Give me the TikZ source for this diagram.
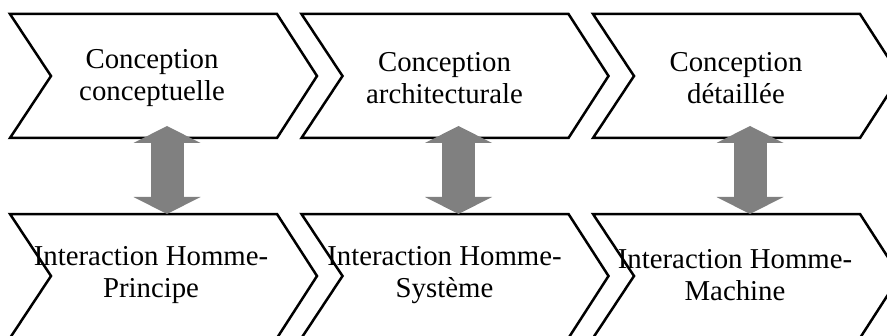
\documentclass[tikz,border=0pt]{standalone}
\usepackage{fontspec}
\setmainfont{Liberation Serif}
\usetikzlibrary{arrows.meta}
\definecolor{chevronink}{HTML}{000000}
\definecolor{arrowgray}{HTML}{808080}

\begin{document}
\begin{tikzpicture}[
  x=0.5pt,
  y=-0.5pt,
  every node/.style={font=\fontsize{14.4}{16}\selectfont, align=center},
  chevron/.style={draw=chevronink, fill=white, line width=1.25pt, miter limit=10},
  dblarrow/.style={arrowgray, line width=16.5pt,
    {Triangle[width=33.5pt, length=8.5pt, line width=0pt]}-{Triangle[width=33.5pt, length=8.5pt, line width=0pt]}}
]
  \useasboundingbox (0,0) rectangle (887,336);
  \clip (0,0) rectangle (887,336);
  \def\chevronpath{(0,0) -- (267,0) -- (307,62) -- (267,124) -- (0,124) -- (41,62) -- cycle}

  % Column 1: conceptuelle / principe
  \begin{scope}[shift={(10,14)}]
    \draw[chevron] \chevronpath;
    \node (cc) at (142,64) {Conception\\conceptuelle};
    \coordinate (cc-s) at (157,112);
  \end{scope}
  \begin{scope}[shift={(10,214)}]
    \draw[chevron] \chevronpath;
    \node (ihp) at (141,61) {Interaction Homme-\\Principe};
    \coordinate (ihp-n) at (157,0);
  \end{scope}

  % Column 2: architecturale / systeme
  \begin{scope}[shift={(301.5,14)}]
    \draw[chevron] \chevronpath;
    \node (ca) at (143,64) {Conception\\architecturale};
    \coordinate (ca-s) at (157,112);
  \end{scope}
  \begin{scope}[shift={(301.5,214)}]
    \draw[chevron] \chevronpath;
    \node (ihs) at (143,61) {Interaction Homme-\\Système};
    \coordinate (ihs-n) at (157,0);
  \end{scope}

  % Column 3: detaillee / machine
  \begin{scope}[shift={(593,14)}]
    \draw[chevron] \chevronpath;
    \node (cd) at (143,64) {Conception\\détaillée};
    \coordinate (cd-s) at (157,112);
  \end{scope}
  \begin{scope}[shift={(593,214)}]
    \draw[chevron] \chevronpath;
    \node (ihm) at (142,61) {Interaction Homme-\\Machine};
    \coordinate (ihm-n) at (157,0);
  \end{scope}

  % Double arrows between the rows
  \draw[dblarrow] (cc-s) -- (ihp-n);
  \draw[dblarrow] (ca-s) -- (ihs-n);
  \draw[dblarrow] (cd-s) -- (ihm-n);
\end{tikzpicture}
\end{document}
